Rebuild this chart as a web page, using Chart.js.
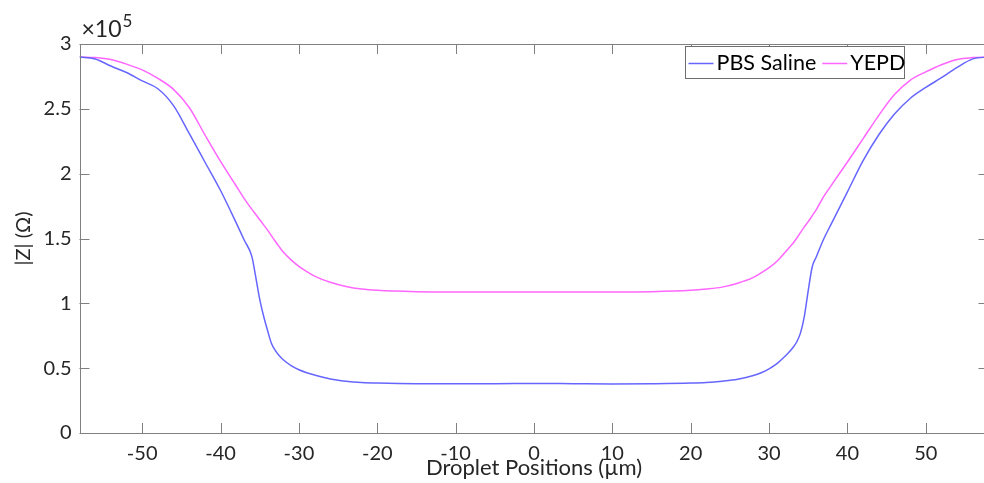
<!DOCTYPE html>
<html>
<head>
<meta charset="utf-8">
<script src="https://cdn.jsdelivr.net/npm/chart.js@4.4.1/dist/chart.umd.min.js"></script>
<style>
  html, body { margin: 0; padding: 0; background: #fff; overflow: hidden; }
  #wrap { width: 992px; height: 483px; }
</style>
</head>
<body>
<div id="wrap"><canvas id="c" width="992" height="483"></canvas></div>
<script>
// Droplet positions (µm)
const positions = [-58,-56,-54,-52,-50,-48,-46,-44,-42,-40,-38,-37,-36,-35.5,-35,-34.5,-34,-33.5,-33,-32.5,-32,-31,-30,-29,-28,-26,-24,-22,-20,-15,-10,-5,0,5,10,15,20,22,24,26,28,29,30,31,32,32.5,33,33.5,34,34.5,35,35.5,36,37,38,40,42,44,46,48,50,52,54,56,58];
// |Z| in units of 1e5 Ω
const pbsSaline = [2.90,2.885,2.83,2.78,2.715,2.655,2.525,2.31,2.09,1.87,1.62,1.49,1.36,1.20,1.03,0.90,0.79,0.69,0.635,0.595,0.565,0.52,0.488,0.465,0.447,0.417,0.40,0.39,0.385,0.38,0.38,0.38,0.382,0.38,0.378,0.38,0.385,0.39,0.40,0.415,0.443,0.465,0.495,0.535,0.59,0.62,0.655,0.70,0.77,0.90,1.10,1.28,1.355,1.50,1.62,1.86,2.10,2.30,2.46,2.58,2.665,2.74,2.82,2.885,2.90];
const yepd = [2.90,2.895,2.88,2.845,2.80,2.735,2.65,2.51,2.30,2.095,1.905,1.81,1.725,1.685,1.645,1.605,1.565,1.52,1.477,1.435,1.395,1.335,1.285,1.245,1.21,1.162,1.13,1.11,1.10,1.09,1.088,1.088,1.088,1.088,1.088,1.09,1.10,1.11,1.125,1.155,1.20,1.235,1.275,1.325,1.39,1.425,1.46,1.50,1.545,1.59,1.63,1.675,1.72,1.826,1.915,2.09,2.27,2.45,2.61,2.72,2.785,2.84,2.88,2.895,2.90];
const xTicks = [-50,-40,-30,-20,-10,0,10,20,30,40,50];
const yTicks = [0,0.5,1,1.5,2,2.5,3];
const seriesNames = ['PBS Saline','YEPD'];
const xTitle = 'Droplet Positions (µm)';
const yTitle = '|Z| (Ω)';
const multiplierBase = '×10';
const multiplierExp = '5';

const FONT = 'Lato';
const TXT = '#262626';
const AX = '#808080';

const toXY = arr => positions.map((x,i)=>({x, y: arr[i]}));

const framePlugin = {
  id: 'frame',
  afterDraw(chart) {
    const ctx = chart.ctx;
    const a = chart.chartArea;
    const xs = chart.scales.x, ys = chart.scales.y;
    ctx.save();
    ctx.strokeStyle = AX;
    ctx.lineWidth = 1;
    ctx.beginPath();
    ctx.rect(Math.round(a.left)+0.5, Math.round(a.top)+0.5, Math.round(a.right-a.left), Math.round(a.bottom-a.top));
    ctx.stroke();
    const TL = 10;
    ctx.beginPath();
    xTicks.forEach(v => {
      const px = Math.round(xs.getPixelForValue(v))+0.5;
      ctx.moveTo(px, a.bottom); ctx.lineTo(px, a.bottom - TL);
      ctx.moveTo(px, a.top); ctx.lineTo(px, a.top + TL);
    });
    yTicks.forEach(v => {
      const py = Math.round(ys.getPixelForValue(v))+0.5;
      ctx.moveTo(a.left, py); ctx.lineTo(a.left + TL, py);
      ctx.moveTo(a.right, py); ctx.lineTo(a.right - TL, py);
    });
    ctx.stroke();

    // exponent label
    ctx.fillStyle = TXT;
    ctx.textBaseline = 'alphabetic';
    ctx.textAlign = 'left';
    ctx.font = '23px ' + FONT;
    ctx.fillText(multiplierBase, a.left + 2, a.top - 7);
    const w = ctx.measureText(multiplierBase).width;
    ctx.font = '17px ' + FONT;
    ctx.fillText(multiplierExp, a.left + 2 + w + 1, a.top - 17);

    // legend
    const lx = 685.5, ly = 46.5, lw = 219, lh = 32;
    ctx.fillStyle = '#fff';
    ctx.fillRect(lx, ly, lw, lh);
    ctx.strokeStyle = '#6e6e6e';
    ctx.lineWidth = 1;
    ctx.strokeRect(lx, ly, lw, lh);
    ctx.font = '21.5px ' + FONT;
    ctx.textBaseline = 'middle';
    let cx = lx + 3;
    const cy = ly + lh/2 + 1;
    chart.data.datasets.forEach(ds => {
      ctx.strokeStyle = ds.borderColor;
      ctx.lineWidth = 1.5;
      ctx.beginPath();
      ctx.moveTo(cx, cy); ctx.lineTo(cx + 25, cy);
      ctx.stroke();
      cx += 28;
      ctx.fillStyle = '#000';
      ctx.fillText(ds.label, cx, cy);
      cx += ctx.measureText(ds.label).width + 6;
    });
    ctx.restore();
  }
};

new Chart(document.getElementById('c'), {
  type: 'line',
  data: {
    datasets: [
      { label: seriesNames[0], data: toXY(pbsSaline), borderColor: '#6666ff', borderWidth: 1.5, pointRadius: 0, cubicInterpolationMode: 'monotone', fill: false },
      { label: seriesNames[1], data: toXY(yepd), borderColor: '#ff66ff', borderWidth: 1.5, pointRadius: 0, cubicInterpolationMode: 'monotone', fill: false }
    ]
  },
  options: {
    responsive: false,
    animation: false,
    layout: { padding: { top: 44, right: 3.5, left: 0, bottom: 0 } },
    plugins: { legend: { display: false }, tooltip: { enabled: false } },
    scales: {
      x: {
        type: 'linear', min: -58, max: 58,
        grid: { display: false, drawTicks: false },
        border: { display: false },
        afterBuildTicks: s => { s.ticks = xTicks.map(v => ({ value: v })); },
        afterFit: s => { s.height = 50; },
        ticks: { font: { family: FONT, size: 20 }, color: TXT, padding: 9, maxRotation: 0, autoSkip: false },
        title: { display: true, text: xTitle, font: { family: FONT, size: 22 }, color: TXT, padding: { top: 0, bottom: 2 } }
      },
      y: {
        type: 'linear', min: 0, max: 3,
        grid: { display: false, drawTicks: false },
        border: { display: false },
        afterBuildTicks: s => { s.ticks = yTicks.map(v => ({ value: v })); },
        afterFit: s => { s.width = 79.5; },
        ticks: { font: { family: FONT, size: 20 }, color: TXT, padding: 8, callback: v => String(v) },
        title: { display: true, text: yTitle, font: { family: FONT, size: 20 }, color: TXT, padding: { top: 12, bottom: 0 } }
      }
    }
  },
  plugins: [framePlugin]
});
</script>
</body>
</html>
